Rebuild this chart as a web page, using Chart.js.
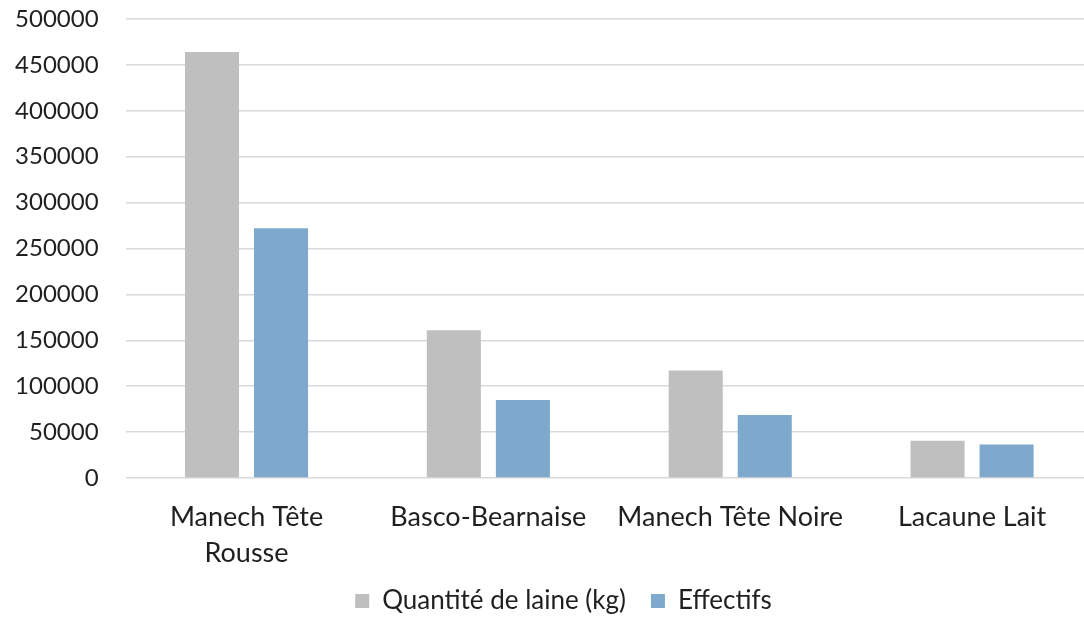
<!DOCTYPE html>
<html>
<head>
<meta charset="utf-8">
<script src="https://cdn.jsdelivr.net/npm/chart.js@4.4.1/dist/chart.umd.min.js"></script>
<style>
  html, body { margin: 0; padding: 0; background: #fff; overflow: hidden; }
  #wrap { width: 1094px; height: 624px; }
</style>
</head>
<body>
<div id="wrap"><canvas id="woolChart"></canvas></div>
<script>
const categories = [['Manech Tête', 'Rousse'], 'Basco-Bearnaise', 'Manech Tête Noire', 'Lacaune Lait'];
const woolKg = [464000, 161000, 117000, 40500];
const headcount = [272000, 85000, 68500, 36500];
const yTicks = [0, 50000, 100000, 150000, 200000, 250000, 300000, 350000, 400000, 450000, 500000];

const textColor = '#1f1f1f';
const gridColor = '#D9D9D9';
Chart.defaults.font.family = 'Lato, "Open Sans", sans-serif';
Chart.defaults.color = textColor;

const chartCanvas = document.getElementById('woolChart');

// the legend in the original sits a bit right of the canvas centre
const legendShift = {
  id: 'legendShift',
  afterLayout(chart) {
    chart.legend.left += 17;
    chart.legend.right += 17;
    chart.legend.top -= 8;
    chart.legend.bottom -= 8;
  }
};

new Chart(chartCanvas, {
  type: 'bar',
  data: {
    labels: categories,
    datasets: [{
      label: 'Quantité de laine (kg)',
      data: woolKg,
      backgroundColor: '#BFBFBF',
      categoryPercentage: 0.571,
      barPercentage: 0.783
    }, {
      label: 'Effectifs',
      data: headcount,
      backgroundColor: '#7FA9CC',
      categoryPercentage: 0.571,
      barPercentage: 0.783
    }]
  },
  plugins: [legendShift],
  options: {
    responsive: true,
    maintainAspectRatio: false,
    animation: false,
    layout: {
      padding: { top: 19, left: 0, right: 1, bottom: -8 }
    },
    plugins: {
      tooltip: { enabled: false },
      legend: {
        position: 'bottom',
        labels: {
          boxWidth: 14,
          boxHeight: 14,
          padding: 25,
          color: textColor,
          font: { size: 26 }
        }
      }
    },
    scales: {
      x: {
        afterFit: scale => { scale.height = 93; },
        grid: { display: false },
        border: { display: false },
        ticks: { padding: 13, maxRotation: 0, autoSkip: false, font: { size: 27, lineHeight: 1.333 } }
      },
      y: {
        min: 0,
        max: 500000,
        afterFit: scale => {
          scale.width = 125.6;
          scale.paddingTop = 0;
          scale.paddingBottom = 0;
        },
        afterBuildTicks: scale => { scale.ticks = yTicks.map(v => ({ value: v })); },
        grid: { color: gridColor, lineWidth: 1.5, drawTicks: false },
        border: { display: false },
        ticks: { padding: 27, font: { size: 24 }, callback: v => String(v) }
      }
    }
  }
});
</script>
</body>
</html>
